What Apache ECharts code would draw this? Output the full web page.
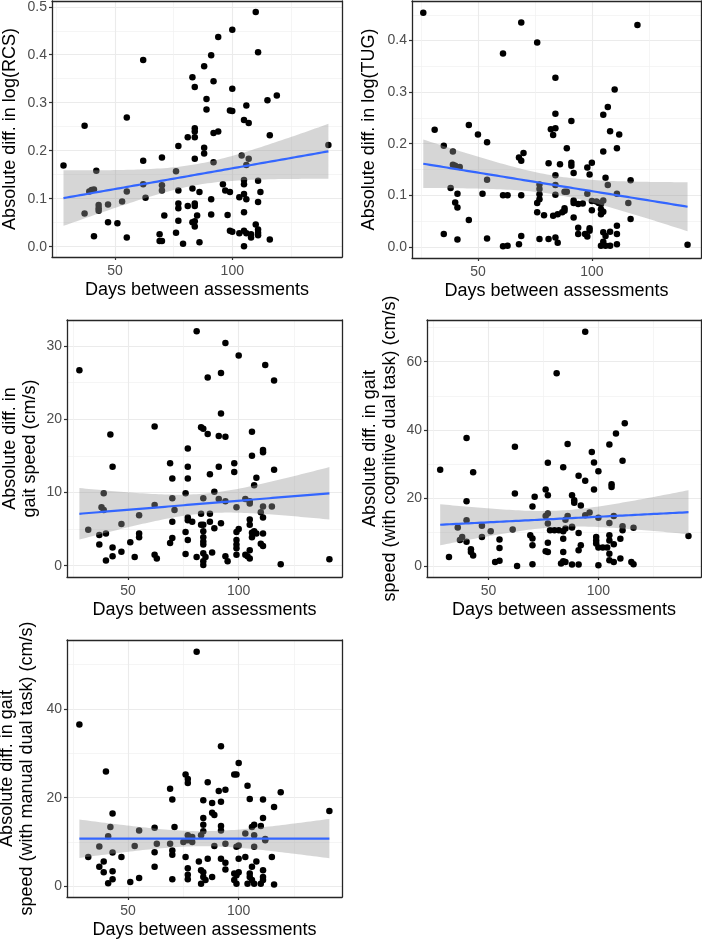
<!DOCTYPE html>
<html><head><meta charset="utf-8">
<script src="https://cdn.jsdelivr.net/npm/echarts@6/dist/echarts.min.js"></script>
<style>html,body{margin:0;padding:0;background:#fff}#c{width:702px;height:941px}</style>
</head><body><div id="c"></div>
<script>
const xTitle = 'Days between assessments';
const yTitles = [
  'Absolute diff. in log(RCS)',
  'Absolute diff. in log(TUG)',
  'Absolute diff. in\ngait speed (cm/s)',
  'Absolute diff. in gait\nspeed (with cognitive dual task) (cm/s)',
  'Absolute diff. in gait\nspeed (with manual dual task) (cm/s)'
];
const xMajorTicks = [50, 100];
const xMinorTicks = [25, 75, 125];
const yMajorTicks = [
  [0, 0.1, 0.2, 0.3, 0.4, 0.5],
  [0, 0.1, 0.2, 0.3, 0.4],
  [0, 10, 20, 30],
  [0, 20, 40, 60],
  [0, 20, 40]
];
const yMinorTicks = [
  [0.05, 0.15, 0.25, 0.35, 0.45],
  [0.05, 0.15, 0.25, 0.35, 0.45],
  [5, 15, 25],
  [10, 30, 50, 70],
  [10, 30, 50]
];

// [days, absolute difference]
const rcsPoints = [
[37,0.252],[62,0.389],[55,0.269],[110,0.489],[100,0.452],[94,0.437],[111,0.405],[91,0.399],[88,0.376],[83,0.353],
[92,0.345],[84,0.333],[100,0.329],[89,0.308],[89,0.286],[119,0.315],[115,0.305],[99,0.284],[100,0.283],[106,0.294],
[105,0.264],[107,0.258],[84,0.247],[84,0.240],[94,0.240],[92,0.237],[81,0.228],[84,0.228],[116,0.232],[77,0.210],
[141,0.212],[88,0.206],[88,0.194],[104,0.190],[107,0.183],[28,0.169],[37,0.069],[42,0.158],[40,0.118],[41,0.119],
[39,0.115],[41,0.022],[43,0.087],[43,0.080],[43,0.075],[47,0.088],[47,0.051],[51,0.049],[53,0.094],[55,0.115],
[55,0.019],[62,0.179],[62,0.130],[63,0.102],[70,0.186],[70,0.128],[70,0.117],[71,0.065],[69,0.026],[69,0.012],
[70,0.012],[76,0.157],[77,0.117],[77,0.090],[77,0.080],[77,0.054],[76,0.029],[79,0.006],[81,0.085],[83,0.121],
[84,0.090],[84,0.085],[83,0.051],[84,0.053],[84,0.042],[85,0.065],[84,0.183],[86,0.114],[86,0.009],[92,0.176],
[91,0.099],[91,0.067],[96,0.130],[97,0.117],[99,0.114],[98,0.066],[99,0.033],[100,0.031],[103,0.103],[105,0.110],
[105,0.072],[106,0.099],[103,0.028],[105,0.033],[106,0.028],[108,0.026],[108,0.019],[105,0.001],[106,0.170],[105,0.139],
[105,0.130],[110,0.046],[111,0.036],[111,0.029],[111,0.024],[111,0.1375],[111,0.093],[112,0.114],[116,0.015]
];
const tugPoints = [
[26,0.454],[31,0.227],[35,0.196],[39,0.185],[46,0.236],[50,0.218],[54,0.203],[61,0.375],[69,0.435],[76,0.396],
[84,0.328],[84,0.258],[82,0.228],[84,0.230],[83,0.217],[89,0.191],[91,0.244],[68,0.173],[70,0.182],[105,0.185],
[105,0.256],[107,0.271],[110,0.305],[108,0.224],[112,0.218],[111,0.191],[120,0.430],[39,0.159],[40,0.157],[42,0.155],
[38,0.114],[41,0.103],[40,0.086],[41,0.076],[35,0.025],[41,0.014],[46,0.052],[54,0.130],[52,0.103],[54,0.016],
[61,0.100],[63,0.100],[61,0.001],[63,0.002],[69,0.167],[69,0.100],[69,0.021],[68,0.005],[77,0.121],[77,0.112],
[77,0.102],[77,0.092],[76,0.085],[76,0.067],[79,0.061],[77,0.015],[81,0.015],[81,0.162],[84,0.139],[84,0.120],
[84,0.101],[83,0.060],[85,0.063],[87,0.067],[88,0.070],[88,0.075],[86,0.160],[84,0.018],[85,0.008],[91,0.163],
[91,0.157],[92,0.143],[88,0.107],[89,0.107],[92,0.090],[92,0.085],[94,0.083],[96,0.084],[92,0.057],[94,0.037],
[94,0.025],[97,0.025],[98,0.020],[99,0.031],[99,0.036],[98,0.154],[99,0.140],[100,0.163],[98,0.103],[100,0.089],
[100,0.071],[102,0.088],[103,0.085],[104,0.083],[105,0.090],[104,0.073],[105,0.068],[104,0.063],[106,0.134],[107,0.120],
[105,0.028],[106,0.021],[108,0.029],[105,0.010],[104,0.002],[106,0.002],[108,0.002],[111,0.041],[111,0.025],[111,0.005],
[111,0.103],[116,0.085],[117,0.129],[117,0.054],[142,0.004]
];
const gaitPoints = [
[28,26.7],[81,32.0],[94,30.4],[100,28.7],[112,27.4],[116,25.3],[86,25.7],[92,26.3],[92,20.8],[62,19.0],
[42,17.9],[83,18.9],[84,18.7],[86,18.0],[91,17.7],[94,17.6],[106,18.3],[77,16.0],[106,15.0],[111,15.8],
[111,15.5],[43,13.5],[69,14.0],[77,13.5],[91,13.5],[98,14.0],[116,13.1],[98,12.8],[87,12.5],[70,11.9],
[77,11.9],[108,12.0],[107,11.0],[39,9.9],[76,9.9],[89,10.1],[70,9.2],[84,9.2],[91,9.1],[94,8.8],
[103,9.1],[105,8.8],[105,8.5],[111,8.1],[115,8.1],[110,7.3],[38,8.0],[39,7.6],[62,8.3],[71,7.6],
[99,8.0],[87,7.1],[83,7.1],[55,6.9],[77,6.6],[111,6.6],[77,6.2],[79,6.0],[70,6.0],[87,6.0],
[92,5.8],[83,5.6],[84,5.6],[89,5.1],[47,5.7],[32,4.9],[37,4.2],[40,4.4],[55,4.4],[55,3.9],
[76,4.6],[84,4.7],[99,4.6],[100,5.0],[105,6.3],[105,5.6],[106,4.5],[107,4.7],[108,4.4],[106,3.9],
[111,4.4],[37,2.9],[70,3.8],[69,3.1],[51,3.2],[77,3.5],[84,3.9],[84,3.3],[84,2.9],[99,3.5],
[99,2.9],[99,2.4],[110,3.0],[111,2.7],[43,2.5],[47,1.9],[53,1.2],[43,1.3],[40,0.7],[62,1.5],
[63,1.0],[76,1.6],[81,1.2],[84,1.7],[85,1.2],[88,1.8],[84,0.1],[84,0.6],[94,1.3],[95,0.6],
[99,1.5],[103,1.5],[105,2.1],[105,1.0],[104,1.3],[119,0.2],[141,0.9]
];
const cognitivePoints = [
[94,68.8],[81,56.6],[112,41.9],[108,38.9],[40,37.6],[105,35.7],[86,35.8],[62,35.0],[97,33.5],[98,30.4],
[111,30.9],[77,30.3],[84,29.0],[28,28.3],[43,27.5],[100,27.8],[91,26.5],[94,25.0],[106,24.0],[106,23.2],
[98,22.5],[76,22.5],[77,20.8],[62,21.3],[71,20.3],[88,20.8],[89,19.3],[89,18.6],[92,17.8],[40,19.0],
[70,17.5],[96,15.7],[94,14.9],[77,15.4],[76,14.7],[86,14.7],[100,14.2],[107,14.7],[85,13.6],[40,13.4],
[77,12.5],[105,12.6],[88,11.5],[111,11.7],[116,11.2],[111,10.5],[36,11.3],[47,11.8],[51,10.2],[61,10.7],
[78,10.5],[80,10.5],[82,10.5],[84,10.2],[85,11.0],[69,9.0],[70,8.1],[70,6.1],[77,6.8],[84,8.0],
[91,9.7],[92,6.1],[91,4.6],[99,8.5],[99,7.5],[99,6.6],[100,5.4],[102,5.4],[105,9.0],[105,7.5],
[110,8.0],[107,6.4],[105,3.6],[104,5.4],[37,7.6],[38,8.5],[40,7.1],[47,8.5],[55,7.8],[55,5.3],
[42,4.9],[42,4.1],[43,3.1],[32,2.6],[84,4.1],[76,4.3],[77,4.1],[88,11.3],[53,1.2],[55,1.5],
[63,0.0],[70,0.5],[83,0.7],[84,1.4],[85,1.2],[88,0.4],[91,0.4],[100,0.2],[105,1.7],[107,1.2],
[110,2.2],[115,1.2],[116,0.5],[141,8.8]
];
const manualPoints = [
[81,52.9],[28,36.5],[92,31.6],[40,25.9],[100,27.8],[98,25.2],[99,25.2],[76,25.2],[77,24.2],[77,23.3],
[86,23.5],[104,22.7],[69,22.0],[70,19.6],[84,19.4],[91,21.5],[94,21.8],[92,19.1],[88,18.8],[105,19.7],
[111,19.6],[119,21.2],[116,17.9],[141,17.0],[43,16.4],[88,16.6],[89,16.1],[84,15.4],[111,15.4],[84,13.9],
[92,13.6],[92,12.6],[71,13.4],[62,13.2],[42,13.4],[55,12.6],[107,13.9],[106,13.4],[110,13.6],[84,12.4],
[83,11.5],[103,11.9],[41,11.3],[77,11.5],[79,11.1],[77,10.4],[75,10.0],[79,10.0],[112,10.4],[107,11.5],
[107,8.9],[112,10.7],[69,9.6],[63,9.6],[94,9.6],[99,8.9],[100,9.2],[89,9.1],[53,9.1],[37,9.0],
[70,8.1],[62,7.7],[43,7.6],[70,7.1],[47,6.6],[32,6.6],[76,6.6],[86,6.2],[92,6.2],[103,6.6],
[100,6.2],[82,5.6],[108,5.6],[39,5.6],[94,5.3],[115,6.6],[62,4.4],[37,4.4],[77,4.1],[94,3.8],
[83,3.6],[84,3.2],[106,4.4],[111,3.6],[39,3.2],[43,3.4],[43,1.6],[41,0.7],[51,1.0],[55,1.9],
[70,1.6],[77,2.6],[77,1.6],[83,0.6],[84,2.1],[88,2.1],[85,1.4],[98,1.4],[98,2.9],[99,2.5],
[100,3.2],[99,0.6],[105,2.9],[105,2.1],[106,1.4],[104,0.6],[107,0.6],[111,2.1],[111,1.4],[110,0.6],
[116,0.4]
];
const allPoints = [rcsPoints, tugPoints, gaitPoints, cognitivePoints, manualPoints];

// layout (pixel placement of the five panels)
const panels = [
  {left: 52, top: 1, width: 290, height: 256, xr: [23.1, 146.8], yr: [-0.0215, 0.512], gap: 32, dec: 1},
  {left: 412, top: 1, width: 289, height: 257, xr: [21.05, 147.9], yr: [-0.0217, 0.4767], gap: 33, dec: 1},
  {left: 67, top: 320, width: 275, height: 257, xr: [22.4, 146.7], yr: [-1.54, 33.55], gap: 27, dec: 0},
  {left: 427, top: 320, width: 274, height: 257, xr: [22, 146.7], yr: [-3.24, 72.26], gap: 27, dec: 0},
  {left: 67, top: 640, width: 275, height: 257, xr: [22.4, 146.7], yr: [-2.41, 55.56], gap: 30, dec: 0}
];

// OLS fit with 95% confidence band (like geom_smooth(method = "lm"))
function lmFit(pts) {
  const n = pts.length;
  let sx = 0, sy = 0;
  pts.forEach(p => { sx += p[0]; sy += p[1]; });
  const xb = sx / n, yb = sy / n;
  let sxx = 0, sxy = 0;
  pts.forEach(p => { sxx += (p[0] - xb) ** 2; sxy += (p[0] - xb) * (p[1] - yb); });
  const b = sxy / sxx, a = yb - b * xb;
  let sse = 0;
  pts.forEach(p => { sse += (p[1] - a - b * p[0]) ** 2; });
  const s = Math.sqrt(sse / (n - 2));
  const t = 1.981;
  const xs = pts.map(p => p[0]);
  const x0 = Math.min(...xs), x1 = Math.max(...xs);
  const line = [], upper = [], lower = [];
  for (let i = 0; i < 80; i++) {
    const x = x0 + (x1 - x0) * i / 79;
    const y = a + b * x;
    const se = s * Math.sqrt(1 / n + (x - xb) ** 2 / sxx);
    line.push([x, y]); upper.push([x, y + t * se]); lower.push([x, y - t * se]);
  }
  return {line, band: upper.concat(lower.reverse())};
}

const FONT = '"Liberation Sans", Arial, Helvetica, sans-serif';
const border = () => ({show: true, onZero: false, lineStyle: {color: '#262626', width: 1.3, opacity: 1}});
const grid = [], xAxis = [], yAxis = [], series = [];
panels.forEach((p, i) => {
  grid.push({left: p.left, top: p.top, width: p.width, height: p.height, show: false,
    outerBoundsMode: 'none', containLabel: false});
});
panels.forEach((p, i) => {
  xAxis.push({type: 'value', gridIndex: i, min: p.xr[0], max: p.xr[1], position: 'bottom',
    axisLine: border(),
    axisTick: {show: true, length: 3, lineStyle: {color: '#333333', width: 1.2}, customValues: xMajorTicks},
    axisLabel: {customValues: xMajorTicks, color: '#4D4D4D', fontSize: 14, margin: 7, fontFamily: FONT},
    splitLine: {show: true, lineStyle: {color: '#EBEBEB', width: 1.1}},
    name: xTitle, nameLocation: 'middle', nameGap: 24,
    nameTextStyle: {color: '#000', fontSize: 18, fontFamily: FONT}});
  yAxis.push({type: 'value', gridIndex: i, min: p.yr[0], max: p.yr[1], position: 'left',
    axisLine: border(),
    axisTick: {show: true, length: 3, lineStyle: {color: '#333333', width: 1.2}, customValues: yMajorTicks[i]},
    axisLabel: {customValues: yMajorTicks[i], color: '#4D4D4D', fontSize: 14, margin: 5, fontFamily: FONT,
      formatter: v => Number(v).toFixed(p.dec)},
    splitLine: {show: true, lineStyle: {color: '#EBEBEB', width: 1.1}},
    name: yTitles[i], nameLocation: 'middle', nameGap: p.gap,
    nameTextStyle: {color: '#000', fontSize: 18, fontFamily: FONT, lineHeight: 20}});
});
panels.forEach((p, i) => {
  xAxis.push({type: 'value', gridIndex: i, min: p.xr[0], max: p.xr[1], position: 'top',
    axisLine: border(), axisTick: {show: false, customValues: xMinorTicks}, axisLabel: {show: false},
    splitLine: {show: true, lineStyle: {color: '#F0F0F0', width: 0.7}}});
  yAxis.push({type: 'value', gridIndex: i, min: p.yr[0], max: p.yr[1], position: 'right',
    axisLine: border(), axisTick: {show: false, customValues: yMinorTicks[i]}, axisLabel: {show: false},
    splitLine: {show: true, lineStyle: {color: '#F0F0F0', width: 0.7}}});
});

allPoints.forEach((pts, i) => {
  const fit = lmFit(pts);
  series.push({type: 'scatter', xAxisIndex: i, yAxisIndex: i, data: pts, symbolSize: 6.5,
    itemStyle: {color: '#000000', opacity: 1}, z: 2, silent: true});
  series.push({type: 'custom', xAxisIndex: i, yAxisIndex: i, data: [fit.band[0]], z: 3, silent: true,
    renderItem: (params, api) => ({type: 'polygon',
      shape: {points: fit.band.map(q => api.coord(q))},
      style: {fill: 'rgba(153,153,153,0.4)'}})});
  series.push({type: 'line', xAxisIndex: i, yAxisIndex: i, data: fit.line, showSymbol: false, z: 4, silent: true,
    lineStyle: {color: '#3366FF', width: 2.2}});
});

const chart = echarts.init(document.getElementById('c'), null, {renderer: 'canvas'});
chart.setOption({animation: false, backgroundColor: '#ffffff', textStyle: {fontFamily: FONT},
  grid, xAxis, yAxis, series});
</script></body></html>
